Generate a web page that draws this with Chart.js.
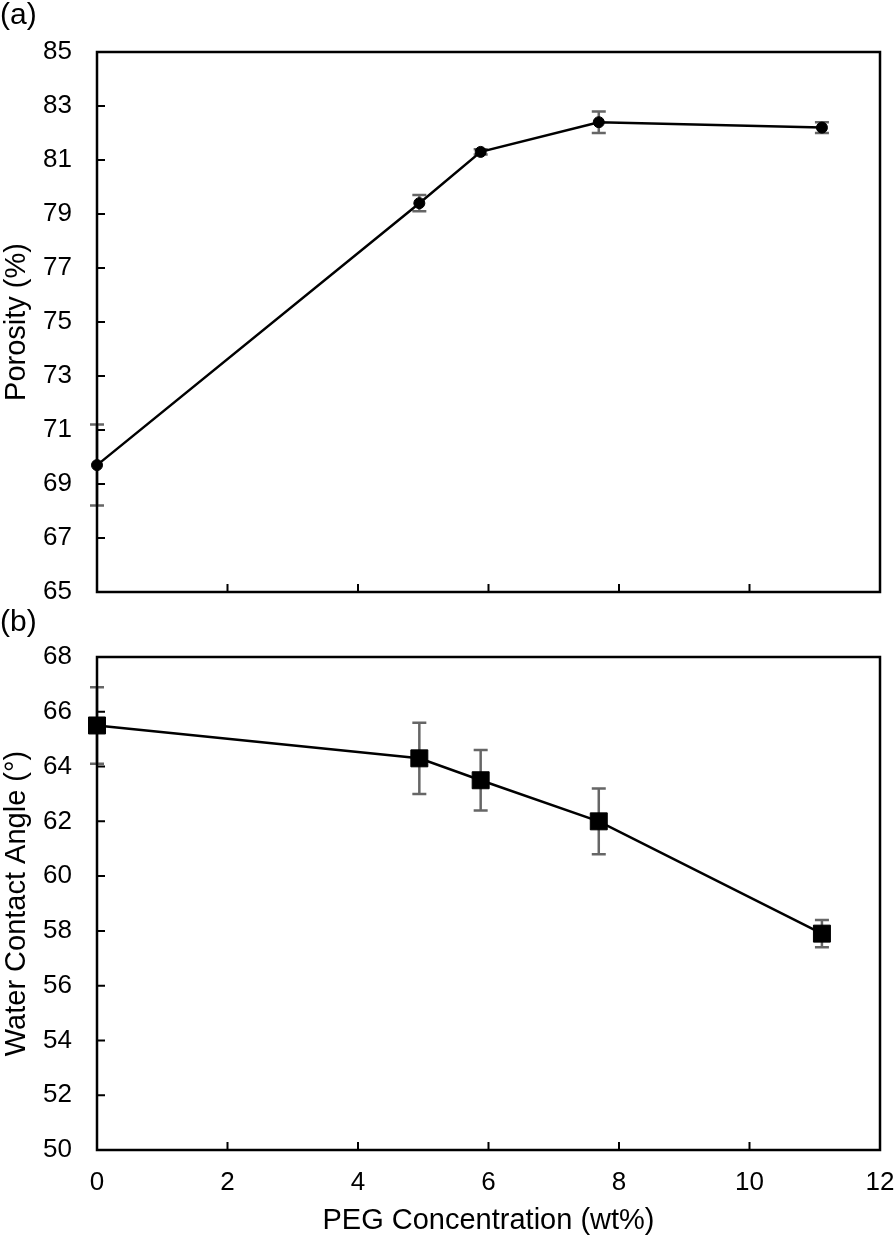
<!DOCTYPE html>
<html>
<head>
<meta charset="utf-8">
<script src="https://cdn.jsdelivr.net/npm/chart.js@4.4.1/dist/chart.umd.min.js"></script>
<style>
  body { margin: 0; background: #fff; }
  .panel { position: absolute; left: 0; }
  #wrapA { top: 0; }
  #wrapB { top: 600px; }
</style>
</head>
<body>
<div class="panel" id="wrapA"><canvas id="chartA" width="894" height="600"></canvas></div>
<div class="panel" id="wrapB"><canvas id="chartB" width="894" height="642"></canvas></div>
<script>
// ---- data ----
const pegConc = [0, 4.94, 5.88, 7.69, 11.11];

const porosity = [69.7, 79.4, 81.3, 82.4, 82.2];
const porosityErr = [1.5, 0.3, 0.1, 0.4, 0.2];

const contactAngle = [65.5, 64.3, 63.5, 62.0, 57.9];
const contactAngleErr = [1.4, 1.3, 1.1, 1.2, 0.5];

const xTickValues = [0, 2, 4, 6, 8, 10, 12];
const porosityTicks = [65, 67, 69, 71, 73, 75, 77, 79, 81, 83, 85];
const angleTicks = [50, 52, 54, 56, 58, 60, 62, 64, 66, 68];

const FONT = "'Liberation Sans', Arial, sans-serif";
const ERR_COLOR = '#666666';

// frame, inward tick marks, error bars and panel letter
const framePlugin = {
  id: 'frame',
  beforeDatasetsDraw(chart, args, opts) {
    const { ctx } = chart;
    const xs = chart.scales.x, ys = chart.scales.y;
    ctx.save();
    ctx.strokeStyle = ERR_COLOR;
    ctx.lineWidth = 2.5;
    opts.values.forEach((v, i) => {
      const e = opts.errors[i];
      if (!e) return;
      const px = xs.getPixelForValue(pegConc[i]);
      const top = ys.getPixelForValue(v + e);
      const bot = ys.getPixelForValue(v - e);
      ctx.beginPath();
      ctx.moveTo(px, top); ctx.lineTo(px, bot);
      ctx.moveTo(px - 7, top); ctx.lineTo(px + 7, top);
      ctx.moveTo(px - 7, bot); ctx.lineTo(px + 7, bot);
      ctx.stroke();
    });
    ctx.restore();
  },
  afterDraw(chart, args, opts) {
    const { ctx, chartArea: a } = chart;
    const xs = chart.scales.x, ys = chart.scales.y;
    ctx.save();
    ctx.strokeStyle = '#000';
    ctx.lineWidth = 2.5;
    ctx.strokeRect(a.left, a.top, a.right - a.left, a.bottom - a.top);
    ctx.lineWidth = 2;
    ctx.beginPath();
    xTickValues.slice(1, -1).forEach(t => {
      const px = xs.getPixelForValue(t);
      ctx.moveTo(px, a.bottom); ctx.lineTo(px, a.bottom - 8);
    });
    opts.yTicks.slice(1, -1).forEach(t => {
      const py = ys.getPixelForValue(t);
      ctx.moveTo(a.left, py); ctx.lineTo(a.left + 8, py);
    });
    ctx.stroke();
    ctx.fillStyle = '#000';
    ctx.font = '30px ' + FONT;
    ctx.textBaseline = 'middle';
    ctx.textAlign = 'left';
    ctx.fillText(opts.label, 0, opts.labelY);
    ctx.restore();
  },
  afterDatasetsDraw(chart) {
    // markers sit on top of the frame at x = 0, so redraw them after it
  }
};

function noPad(s) {
  s.paddingLeft = 0; s.paddingRight = 0; s.paddingTop = 0; s.paddingBottom = 0;
}

function makePanel(canvasId, opts) {
  const ctx = document.getElementById(canvasId).getContext('2d');
  return new Chart(ctx, {
    type: 'line',
    data: {
      datasets: [{
        data: pegConc.map((x, i) => ({ x, y: opts.values[i] })),
        borderColor: '#000',
        borderWidth: 2.5,
        backgroundColor: '#000',
        pointStyle: opts.pointStyle,
        pointRadius: opts.pointRadius,
        pointBorderWidth: 1,
        pointBorderColor: '#000',
        pointBackgroundColor: '#000',
        tension: 0,
        fill: false,
        clip: false,
      }],
    },
    options: {
      responsive: false,
      animation: false,
      layout: { padding: { left: 0, right: 14, top: opts.padTop, bottom: 0 } },
      plugins: {
        legend: { display: false },
        tooltip: { enabled: false },
        frame: { values: opts.values, errors: opts.errors, yTicks: opts.yTicks, label: opts.label, labelY: opts.labelY },
      },
      scales: {
        x: {
          type: 'linear',
          min: 0,
          max: 12,
          grid: { display: false, drawTicks: false },
          border: { display: false },
          afterBuildTicks: (s) => { s.ticks = xTickValues.map(v => ({ value: v })); },
          afterFit: (s) => { s.height = opts.xHeight; noPad(s); },
          ticks: {
            display: opts.showX,
            padding: 17,
            color: '#000',
            font: { family: FONT, size: 26 },
          },
          title: {
            display: opts.showX,
            text: 'PEG Concentration (wt%)',
            color: '#000',
            font: { family: FONT, size: 29 },
            padding: { top: 0, bottom: 4 },
          },
        },
        y: {
          min: opts.yTicks[0],
          max: opts.yTicks[opts.yTicks.length - 1],
          grid: { display: false, drawTicks: false },
          border: { display: false },
          afterBuildTicks: (s) => { s.ticks = opts.yTicks.map(v => ({ value: v })); },
          afterFit: (s) => { s.width = 97; noPad(s); },
          ticks: {
            padding: 25,
            color: '#000',
            font: { family: FONT, size: 26 },
          },
          title: {
            display: true,
            text: opts.yTitle,
            color: '#000',
            font: { family: FONT, size: 29 },
            padding: 0,
          },
        },
      },
    },
    plugins: [framePlugin],
  });
}

makePanel('chartA', {
  values: porosity,
  errors: porosityErr,
  yTicks: porosityTicks,
  yTitle: 'Porosity (%)',
  label: '(a)',
  labelY: 16,
  pointStyle: 'circle',
  pointRadius: 5.5,
  padTop: 52,
  xHeight: 8,
  showX: false,
});

makePanel('chartB', {
  values: contactAngle,
  errors: contactAngleErr,
  yTicks: angleTicks,
  yTitle: 'Water Contact Angle (°)',
  label: '(b)',
  labelY: 23,
  pointStyle: 'rect',
  pointRadius: 12,
  padTop: 57,
  xHeight: 92,
  showX: true,
});
</script>
</body>
</html>
